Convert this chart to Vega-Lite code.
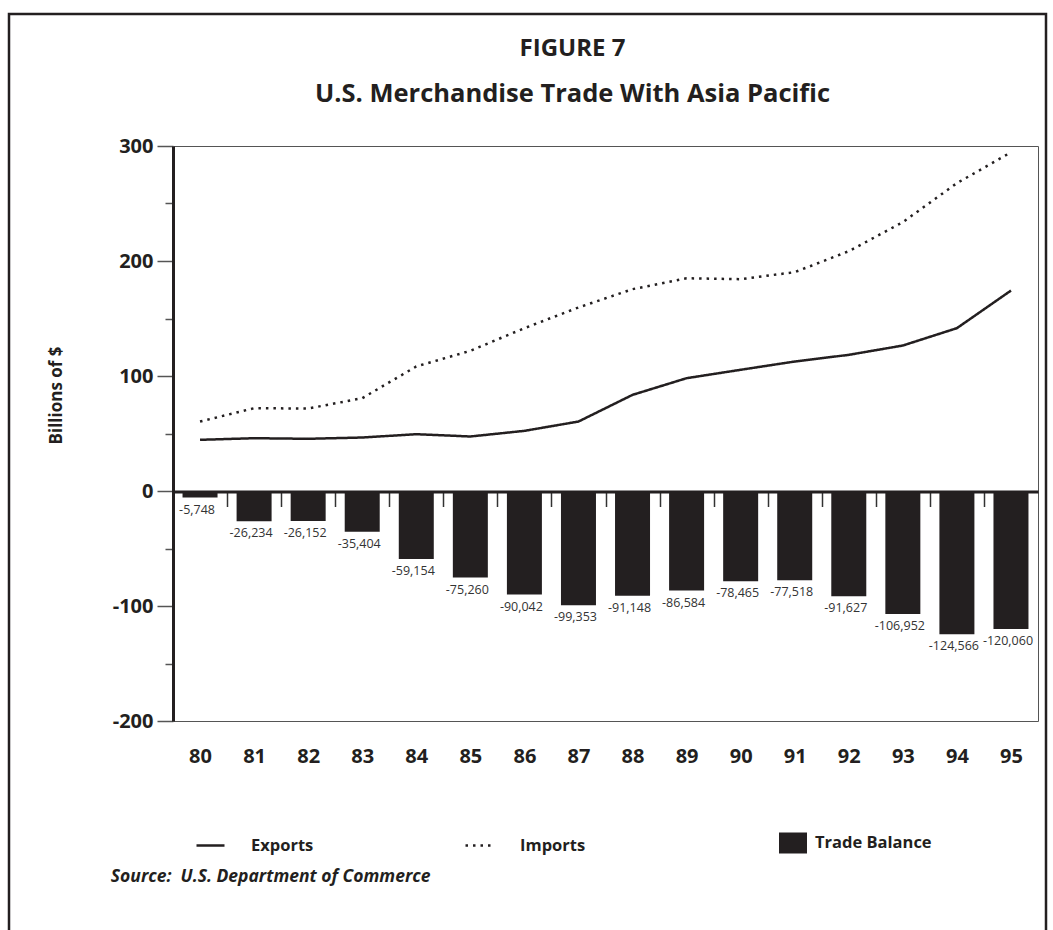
{
  "$schema": "https://vega.github.io/schema/vega-lite/v6.json",
  "width": 865,
  "height": 575,
  "padding": {"left": 7, "top": 12, "right": 7, "bottom": 0},
  "background": "white",
  "title": {
    "text": "FIGURE 7",
    "subtitle": "U.S. Merchandise Trade With Asia Pacific",
    "frame": "group",
    "anchor": "middle",
    "dx": -33,
    "offset": -95,
    "font": "Open Sans",
    "fontSize": 24,
    "fontWeight": "bold",
    "color": "#231f20",
    "subtitleFont": "Open Sans",
    "subtitleFontSize": 25.5,
    "subtitleFontWeight": "bold",
    "subtitleColor": "#231f20",
    "subtitlePadding": 21
  },
  "data": {
    "values": [
      {"year": 80, "Exports": 44500, "Imports": 60400, "balance": -5748},
      {"year": 81, "Exports": 45900, "Imports": 72000, "balance": -26234},
      {"year": 82, "Exports": 45400, "Imports": 71700, "balance": -26152},
      {"year": 83, "Exports": 46500, "Imports": 80700, "balance": -35404},
      {"year": 84, "Exports": 49400, "Imports": 108300, "balance": -59154},
      {"year": 85, "Exports": 47400, "Imports": 121900, "balance": -75260},
      {"year": 86, "Exports": 52300, "Imports": 141600, "balance": -90042},
      {"year": 87, "Exports": 60400, "Imports": 159600, "balance": -99353},
      {"year": 88, "Exports": 83600, "Imports": 175500, "balance": -91148},
      {"year": 89, "Exports": 98100, "Imports": 185000, "balance": -86584},
      {"year": 90, "Exports": 105400, "Imports": 184200, "balance": -78465},
      {"year": 91, "Exports": 112600, "Imports": 190300, "balance": -77518},
      {"year": 92, "Exports": 118400, "Imports": 208500, "balance": -91627},
      {"year": 93, "Exports": 126500, "Imports": 233800, "balance": -106952},
      {"year": 94, "Exports": 141600, "Imports": 267700, "balance": -124566},
      {"year": 95, "Exports": 174300, "Imports": 294500, "balance": -120060}
    ]
  },
  "layer": [
    {
      "mark": {"type": "bar", "size": 35},
      "encoding": {
        "x": {
          "field": "year",
          "type": "quantitative",
          "scale": {"domain": [79.5, 95.5], "nice": false, "zero": false, "padding": 0},
          "axis": {
            "orient": "bottom",
            "values": [80, 81, 82, 83, 84, 85, 86, 87, 88, 89, 90, 91, 92, 93, 94, 95],
            "format": "d",
            "ticks": false,
            "domain": false,
            "grid": false,
            "title": null,
            "labelPadding": 25,
            "labelFont": "Open Sans",
            "labelFontSize": 20,
            "labelFontWeight": "bold",
            "labelColor": "#231f20",
            "labelFlush": false,
            "labelOverlap": false
          }
        },
        "y": {
          "field": "balance",
          "type": "quantitative",
          "title": "Billions of $",
          "scale": {"domain": [-200000, 300000], "nice": false, "zero": false, "padding": 0},
          "axis": {
            "values": [-200000, -150000, -100000, -50000, 0, 50000, 100000, 150000, 200000, 250000, 300000],
            "labelExpr": "datum.value % 100000 === 0 ? '' + (datum.value / 1000) : ''",
            "grid": false,
            "domainColor": "#231f20",
            "domainWidth": 3,
            "tickColor": "#555",
            "tickWidth": 1.5,
            "tickSize": {"condition": {"test": "datum.value % 100000 === 0", "value": 16}, "value": 8},
            "labelPadding": 4,
            "labelFont": "Open Sans",
            "labelFontSize": 20,
            "labelFontWeight": "bold",
            "labelColor": "#231f20",
            "labelFlush": false,
            "labelOverlap": false,
            "titleFont": "Open Sans",
            "titleFontSize": 17,
            "titleFontWeight": "bold",
            "titleColor": "#231f20",
            "titleAngle": -90,
            "titleAlign": "center",
            "titleBaseline": "middle",
            "titleX": -117,
            "titleY": 249
          }
        },
        "y2": {"datum": 0},
        "fill": {
          "datum": "Trade Balance",
          "type": "nominal",
          "scale": {"range": ["#231f20"]},
          "legend": {
            "orient": "none",
            "legendX": 606,
            "legendY": 683,
            "title": null,
            "symbolType": "M-1,-0.75H1V0.75H-1Z",
            "symbolSize": 784,
            "symbolStrokeWidth": 0,
            "labelOffset": 8,
            "labelFont": "Open Sans",
            "labelFontSize": 16.5,
            "labelFontWeight": "bold",
            "labelColor": "#231f20"
          }
        }
      }
    },
    {
      "transform": [{"fold": ["Exports", "Imports"], "as": ["series", "amount"]}],
      "mark": {"type": "line", "color": "#231f20", "strokeWidth": 2.5, "strokeCap": "butt"},
      "encoding": {
        "x": {
          "field": "year",
          "type": "quantitative",
          "scale": {"domain": [79.5, 95.5], "nice": false, "zero": false, "padding": 0},
          "axis": {
            "orient": "bottom",
            "offset": -229.5,
            "values": [80.5, 81.5, 82.5, 83.5, 84.5, 85.5, 86.5, 87.5, 88.5, 89.5, 90.5, 91.5, 92.5, 93.5, 94.5],
            "labels": false,
            "grid": false,
            "title": null,
            "domainColor": "#231f20",
            "domainWidth": 3,
            "tickColor": "#333",
            "tickWidth": 1.5,
            "tickSize": 15
          }
        },
        "y": {"field": "amount", "type": "quantitative", "title": "Billions of $"},
        "strokeDash": {
          "field": "series",
          "type": "nominal",
          "scale": {"domain": ["Exports", "Imports"], "range": [[1, 0], [2.5, 5]]},
          "legend": {
            "orient": "none",
            "legendX": 22,
            "legendY": 684,
            "direction": "horizontal",
            "title": null,
            "symbolType": "stroke",
            "symbolSize": 784,
            "symbolStrokeWidth": 2.5,
            "symbolStrokeColor": "#231f20",
            "labelOffset": 25,
            "columnPadding": 146,
            "labelFont": "Open Sans",
            "labelFontSize": 16.5,
            "labelFontWeight": "bold",
            "labelColor": "#231f20"
          }
        }
      }
    },
    {
      "mark": {"type": "text", "baseline": "top", "dy": 6, "dx": -3, "font": "Open Sans", "fontSize": 12.5, "color": "#333"},
      "encoding": {
        "x": {"field": "year", "type": "quantitative", "axis": null},
        "y": {"field": "balance", "type": "quantitative", "title": "Billions of $"},
        "text": {"field": "balance", "type": "quantitative", "format": ","}
      }
    },
    {
      "data": {"values": [{}]},
      "mark": {"type": "rect", "filled": false, "color": "#231f20", "strokeWidth": 2.5},
      "encoding": {
        "x": {"datum": 76.4665, "type": "quantitative", "axis": null},
        "x2": {"datum": 95.648},
        "y": {"datum": 414783, "type": "quantitative", "title": "Billions of $"},
        "y2": {"datum": -400000}
      }
    },
    {
      "data": {"values": [{}]},
      "mark": {"type": "text", "align": "left", "baseline": "alphabetic", "font": "Open Sans", "fontSize": 17.5, "fontWeight": "bold", "fontStyle": "italic", "color": "#231f20"},
      "encoding": {
        "x": {"datum": 78.35, "type": "quantitative", "axis": null},
        "y": {"datum": -340400, "type": "quantitative", "title": "Billions of $"},
        "text": {"value": "Source:\u00a0 U.S. Department of Commerce"}
      }
    }
  ],
  "resolve": {"axis": {"x": "independent"}},
  "config": {
    "font": "Open Sans",
    "view": {"stroke": "#555", "strokeWidth": 1},
    "locale": {"number": {"decimal": ".", "thousands": ",", "grouping": [3], "currency": ["$", ""], "minus": "-"}},
    "axis": {"grid": false}
  }
}
